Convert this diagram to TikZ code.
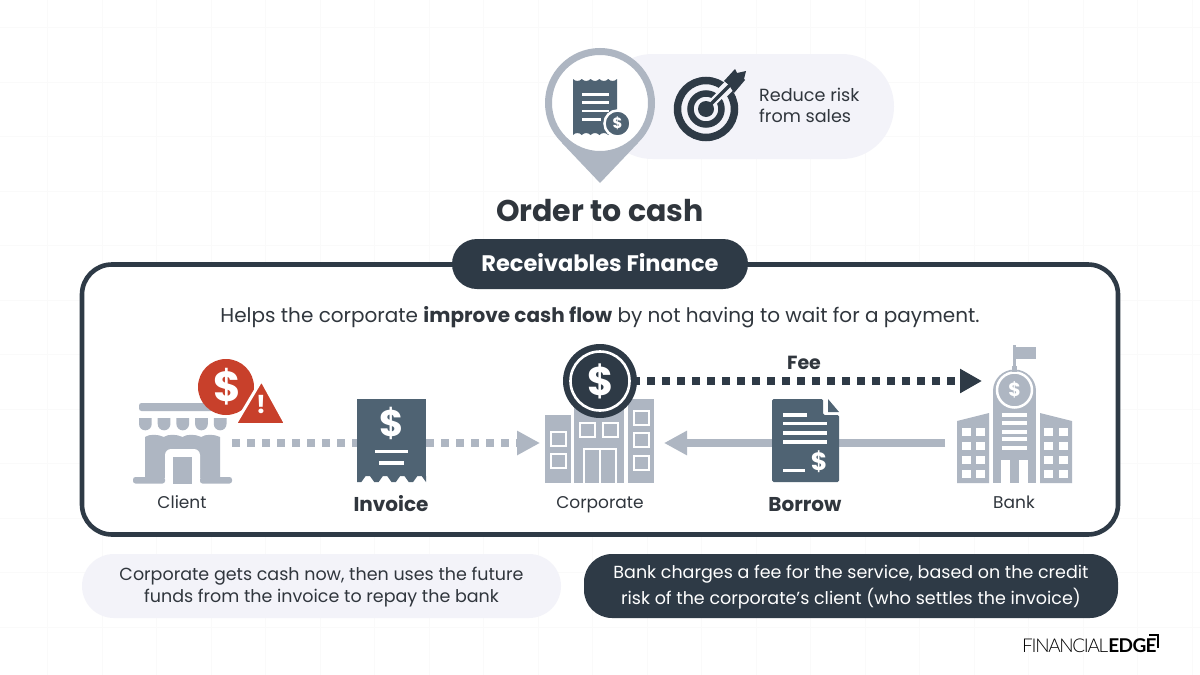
\documentclass[tikz,border=0pt]{standalone}
\usepackage{fontspec}
\setmainfont{Poppins}
\usetikzlibrary{arrows.meta}
\definecolor{lgray}{HTML}{AEB6C2}
\definecolor{dark}{HTML}{2E3A46}
\definecolor{slate}{HTML}{4F6373}
\definecolor{redc}{HTML}{C8402B}
\definecolor{pale}{HTML}{F3F3F9}
\definecolor{gridc}{HTML}{FAFAFA}
\definecolor{txt}{HTML}{30363D}
\newcommand{\fs}[1]{\fontsize{#1}{#1}\selectfont}
\tikzset{
 x=1pt,y=-1pt,
 box/.style={inner sep=0pt,outer sep=0pt,minimum width=#1},
 lab/.style={text=txt,inner sep=0pt,anchor=base,font=\fs{17}},
 blab/.style={text=txt,inner sep=0pt,anchor=base,font=\fs{20}\bfseries},
 dotsl/.style={line width=7.5pt,lgray,dash pattern=on 7.5pt off 7.5pt},
 dotsd/.style={line width=7.5pt,dark,dash pattern=on 7.5pt off 7.5pt},
 ltip/.style={-{Triangle[length=23pt,width=23pt]}},
 whl/.style={white,line width=2.6pt},
 win/.style={draw=white,line width=2.4pt,fill=lgray},
}
\begin{document}
\begin{tikzpicture}
\useasboundingbox (0,0) rectangle (1200,675);
\fill[white] (0,0) rectangle (1200,675);
% faint grid
\foreach \i in {0,...,22}{\draw[gridc,line width=1pt] ({-7+54.5*\i},0) -- ({-7+54.5*\i},675);}
\foreach \i in {0,...,12}{\draw[gridc,line width=1pt] (0,{-27+54.5*\i}) -- (1200,{-27+54.5*\i});}

% top pill
\node[box=294pt,minimum height=105pt,fill=pale,rounded corners=52.4pt] (riskpill) at (747,106.5) {};
% pin
\fill[lgray] (562,143) -- (600,183) -- (638,143) -- cycle;
\node[circle,draw=lgray,line width=7pt,fill=white,minimum size=103pt,inner sep=0pt] (pin) at (600,103) {};
% receipt
\fill[slate] (573,79) foreach \i in {1,...,5}{ .. controls +(2.2,2.6) and +(-2.2,2.6) .. ++(8.8,0)}
  -- (617,135) foreach \i in {1,...,5}{ .. controls +(-2.2,-2.6) and +(2.2,-2.6) .. ++(-8.8,0)} -- cycle;
\foreach \yy/\xe in {94.5/609,102.5/609,111/609,119.5/601}{\draw[whl] (582,\yy) -- (\xe,\yy);}
\node[circle,fill=slate,draw=white,line width=2.5pt,minimum size=26pt,inner sep=0pt,text=white,font=\fs{15}\bfseries] (receiptcoin) at (617.5,123.5) {\$};
% target
\draw[dark,line width=7.5pt] (706,109) circle (28.5);
\draw[dark,line width=6.5pt] (706,109) circle (15.5);
\draw[pale,line width=8pt] (706,109) -- (738,77);
\draw[pale,line width=12pt] (722,93) -- (742,73);
\fill[dark] (706,109) circle (8);
\draw[dark,line width=3.5pt] (706,109) -- (730,85);
\fill[dark] (724,81) -- (735,69) -- (737,73) -- (746,71) -- (744,79) -- (745,80) -- (734,93) -- (729,85) -- cycle;
\node[inner sep=0pt,text=txt,font=\fs{17.6},align=left,anchor=west] (risktext) at (759,105.5) {Reduce risk\\[3.4pt]from sales};

\node[inner sep=0pt,text=txt,font=\fs{30}\bfseries,anchor=base] (title) at (600,221.5) {Order to cash};

% main box
\node[box=1036pt,minimum height=270pt,draw=dark,line width=4.6pt,rounded corners=30pt,fill=white] (mainbox) at (600,399.5) {};
\node[box=296pt,minimum height=50pt,fill=dark,rounded corners=25pt] (recv) at (600,264) {};
\node[inner sep=0pt,text=white,font=\fs{22.5}\bfseries,anchor=base] (recvtext) at (600,271.5) {Receivables Finance};
\node[inner sep=0pt,text=txt,font=\fs{20},anchor=base] (helps) at (600,322) {Helps the corporate \textbf{improve cash flow} by not having to wait for a payment.};

% icon anchors
\node[box=99pt,minimum height=80pt] (client) at (182.5,443) {};
\node[box=69pt,minimum height=84pt] (invoice) at (391.5,443) {};
\node[box=108pt,minimum height=84pt] (corporate) at (599,443) {};
\node[box=67pt,minimum height=84pt] (borrow) at (805.5,443) {};
\node[box=127pt,minimum height=84pt] (bank) at (1008.5,443) {};
\node[circle,minimum size=74pt,inner sep=0pt,outer sep=0pt] (coin) at (600,381) {};
\coordinate (feeend) at (982,381);

% connectors
\draw[dotsl] (client.east) -- (invoice.west);
\draw[dotsl,ltip] (invoice.east) -- ([xshift=-5pt]corporate.west);
\draw[lgray,line width=7.5pt,ltip] (bank.west) -- ([xshift=11pt]corporate.east);
\draw[dotsd,dash phase=-10pt,-{Triangle[length=22pt,width=23pt]}] (coin.east) -- (feeend);
\node[inner sep=0pt,text=txt,font=\fs{19}\bfseries,anchor=base] (feelab) at (804,369) {Fee};

% client store
\fill[lgray,rounded corners=2.5pt] (139,403) rectangle (228,411);
\foreach \i in {0,...,4}{\fill[lgray] ({139+18.7*\i},418) -- ({151.7+18.7*\i},418) -- ({151.7+18.7*\i},424) arc (0:180:6.35) -- cycle;}
\fill[lgray] (145,478) -- (145,437) foreach \i in {1,...,4}{ .. controls +(4,-3) and +(-6,-3) .. ++(18.75,0)} -- (220,478) -- cycle;
\fill[white,rounded corners=6pt] (165,490) -- (165,449) -- (200,449) -- (200,490) -- cycle;
\fill[lgray] (173,457) rectangle (192,483.5);
\fill[lgray,rounded corners=2.5pt] (133,477) rectangle (165,483.5);
\fill[lgray,rounded corners=2.5pt] (200,477) rectangle (232,483.5);
\fill[white] (160,484) rectangle (205,490);
% red coin and warning
\node[circle,fill=redc,minimum size=56pt,inner sep=0pt] (redcoin) at (226,387) {};
\node[inner sep=0pt,text=white,font=\fs{42}\bfseries] (reddollar) at (227.5,387) {\$};
\draw[white,line width=3pt,fill=redc,rounded corners=2.5pt,line join=round] (261.5,380) -- (286,424.5) -- (235,424.5) -- cycle;
\node[inner sep=0pt,text=white,font=\fs{25}\bfseries] (warn) at (261,405) {!};
\node[lab] (clientlab) at (182,508.5) {Client};

% invoice
\fill[slate] (357,399) rectangle (426,476);
\fill[slate] (357,476) -- (426,476) -- (426,482) foreach \i in {1,...,4}{ -- ++(-4.3,-6) -- ++(-4.3,0) -- ++(-4.3,6) -- ++(-4.35,0)} -- cycle;
\node[inner sep=0pt,text=white,font=\fs{37}\bfseries] (invdollar) at (391.5,423) {\$};
\draw[white,line width=3.2pt] (375,451.5) -- (408,451.5);
\draw[white,line width=3.2pt] (379,463) -- (404,463);
\node[blab] (invlab) at (391,511) {Invoice};

% corporate
\fill[lgray] (545,415) rectangle (571,483);
\fill[lgray] (574,400) rectangle (624,483);
\fill[lgray] (628,399) rectangle (653.5,483);
\foreach \xx/\yy in {551/432,551/454,580/423,603/423,634/411,634/433,634/456}{\draw[win] (\xx,\yy) rectangle ++(15,14);}
\draw[white,line width=2.4pt] (584,483) -- (584,449) -- (616,449) -- (616,483);
\draw[white,line width=2.4pt] (600,449) -- (600,483);
\node[lab] (corplab) at (600,508.5) {Corporate};
% coin
\node[circle,fill=dark,minimum size=74pt,inner sep=0pt] (coinbase) at (coin) {};
\draw[white,line width=2.6pt] (coin) circle (29.5);
\node[inner sep=0pt,text=white,font=\fs{40}\bfseries] (coindollar) at (601,381) {\$};

% borrow doc
\fill[slate,rounded corners=1.5pt] (772,399) -- (823,399) -- (823,415) -- (839,415) -- (839,482) -- (772,482) -- cycle;
\fill[slate] (828,399) -- (839,412) -- (828,412) -- cycle;
\draw[white,line width=3.2pt] (783,415) -- (807,415);
\foreach \yy in {423.5,433,442}{\draw[white,line width=3.2pt] (783,\yy) -- (827,\yy);}
\draw[white,line width=3.2pt] (783,470.5) -- (805,470.5);
\node[inner sep=0pt,text=white,font=\fs{25}\bfseries] (borrowdollar) at (819,461.5) {\$};
\node[blab] (borrowlab) at (805,511) {Borrow};

% bank
\fill[lgray] (957,483) -- (957,421) -- (989,413) -- (989,483) -- cycle;
\fill[lgray] (1072,483) -- (1072,421) -- (1040,413) -- (1040,483) -- cycle;
\fill[lgray] (993,483) -- (993,395) -- (1036,395) -- (1036,483) -- cycle;
\fill[lgray] (993,391) arc (180:360:21.5) -- cycle;
\fill[lgray] (993,390) rectangle (1036,396);
\draw[white,line width=2.5pt] (1014.5,390) circle (17.5);
\fill[lgray] (1014.5,390) circle (14.5);
\fill[lgray] (1012,372) rectangle (1017,366);
\fill[lgray] (1013,345) rectangle (1016,366);
\fill[lgray] (1014,347) -- (1036,347) -- (1036,359) -- (1014,359) -- cycle;
\node[inner sep=0pt,text=white,font=\fs{19}\bfseries] (bankdollar) at (1014.5,390) {\$};
\foreach \yy in {414.5,423,431.5,439,447.5}{\fill[white] (1002,\yy-2) rectangle (1027,\yy+2);}
\fill[white] (1001,483) -- (1001,460) -- (1010,460) -- (1010,483) -- cycle;
\fill[white] (1019,483) -- (1019,460) -- (1028,460) -- (1028,483) -- cycle;
\foreach \xx in {962,976,1044,1059}{\foreach \yy in {428,442,456,470}{\fill[white] (\xx,\yy) rectangle ++(8.5,8);}}
\node[lab] (banklab) at (1014,508.5) {Bank};

% bottom pills
\node[box=479pt,minimum height=64pt,fill=pale,rounded corners=32pt] (leftpill) at (321.5,586) {};
\node[inner sep=0pt,text=txt,align=center,font=\fs{17.5}] (lefttext) at (321.5,587) {Corporate gets cash now, then uses the future\\[3.6pt]funds from the invoice to repay the bank};
\node[box=534pt,minimum height=64pt,fill=dark,rounded corners=28pt] (rightpill) at (851,586) {};
\node[inner sep=0pt,text=white,align=center,font=\fs{17.5}] (righttext) at (851,587) {Bank charges a fee for the service, based on the credit\\[3.6pt]risk of the corporate’s client (who settles the invoice)};

% logo
\node[inner sep=0pt,anchor=west,text=black] (logo) at (1022,646) {\fs{19}\fontspec{Lato Light}[LetterSpace=-7]FINANCIAL\fontspec{Lato}[LetterSpace=-3]\bfseries EDGE};
\coordinate (logoa) at (1149,635);
\coordinate (logob) at (1158,635);
\coordinate (logoc) at (1158,648);
\draw[black,line width=1.8pt] (logoa) -- (logob) -- (logoc);
\end{tikzpicture}
\end{document}
